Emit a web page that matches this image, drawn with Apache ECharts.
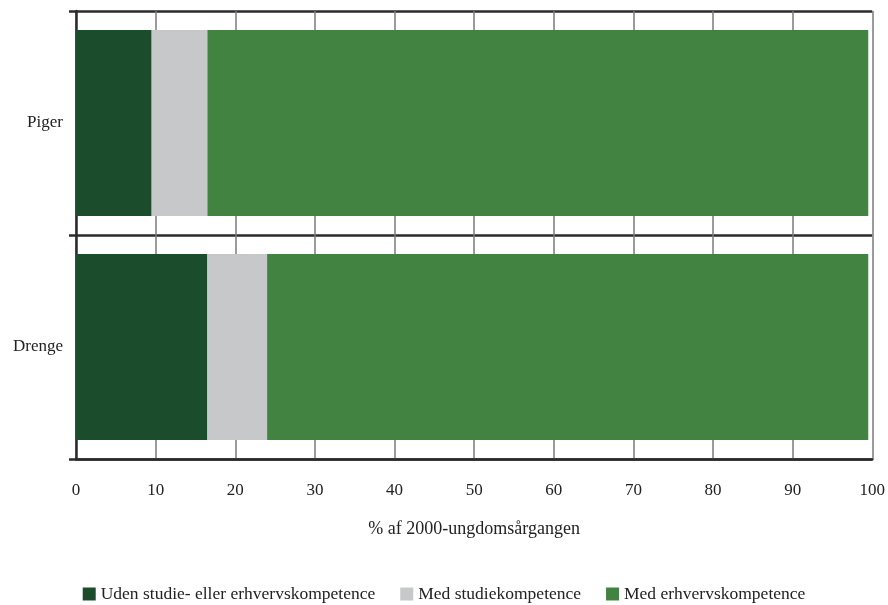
<!DOCTYPE html>
<html>
<head>
<meta charset="utf-8">
<script src="https://cdn.jsdelivr.net/npm/echarts@6/dist/echarts.min.js"></script>
<style>
  html, body { margin: 0; padding: 0; background: #fff; }
  #chart { width: 888px; height: 605px; }
</style>
</head>
<body>
<div id="chart"></div>
<script>
// data (bottom-to-top order for the category axis)
const categories = ['Drenge', 'Piger'];
const seriesNames = ['Uden studie- eller erhvervskompetence', 'Med studiekompetence', 'Med erhvervskompetence'];
const udenKompetence = [16.5, 9.5];
const studieKompetence = [7.5, 7];
const erhvervsKompetence = [75.5, 83];
const colors = ['#1b4c2b', '#c7c8ca', '#428342'];

const font = '"Liberation Serif", "DejaVu Serif", serif';
const chart = echarts.init(document.getElementById('chart'), null, { renderer: 'canvas' });

const values = [udenKompetence, studieKompetence, erhvervsKompetence];
const series = seriesNames.map((name, i) => ({
  name: name,
  type: 'bar',
  stack: 'total',
  barWidth: '83%',
  data: values[i],
  itemStyle: { color: colors[i] },
  emphasis: { disabled: true }
}));

chart.setOption({
  animation: false,
  textStyle: { fontFamily: font },
  color: colors,
  grid: { left: 76, right: 14, top: 11, bottom: 146, containLabel: false },
  legend: {
    top: 585,
    left: 'center',
    padding: 0,
    itemWidth: 13,
    itemHeight: 13,
    itemGap: 25,
    icon: 'rect',
    textStyle: { fontFamily: font, fontSize: 17.5, color: '#222' },
    data: seriesNames
  },
  xAxis: {
    type: 'value',
    min: 0,
    max: 100,
    interval: 10,
    name: '% af 2000-ungdomsårgangen',
    nameLocation: 'middle',
    nameGap: 61,
    nameTextStyle: { fontFamily: font, fontSize: 18, color: '#222' },
    axisLine: { show: true, lineStyle: { color: '#2b2b2b', width: 2.5 } },
    axisTick: { show: false },
    axisLabel: { margin: 23, fontFamily: font, fontSize: 17, color: '#222' },
    splitLine: { show: true, lineStyle: { color: '#7a7a7a', width: 1.5 } }
  },
  yAxis: {
    type: 'category',
    data: categories,
    axisLine: { show: true, lineStyle: { color: '#2b2b2b', width: 2.5 } },
    axisTick: { show: true, length: 7, lineStyle: { color: '#2b2b2b', width: 2.5 } },
    axisLabel: { margin: 13, fontFamily: font, fontSize: 17, color: '#222' },
    splitLine: { show: true, lineStyle: { color: '#2b2b2b', width: 2.5 } }
  },
  series: series
});
</script>
</body>
</html>
